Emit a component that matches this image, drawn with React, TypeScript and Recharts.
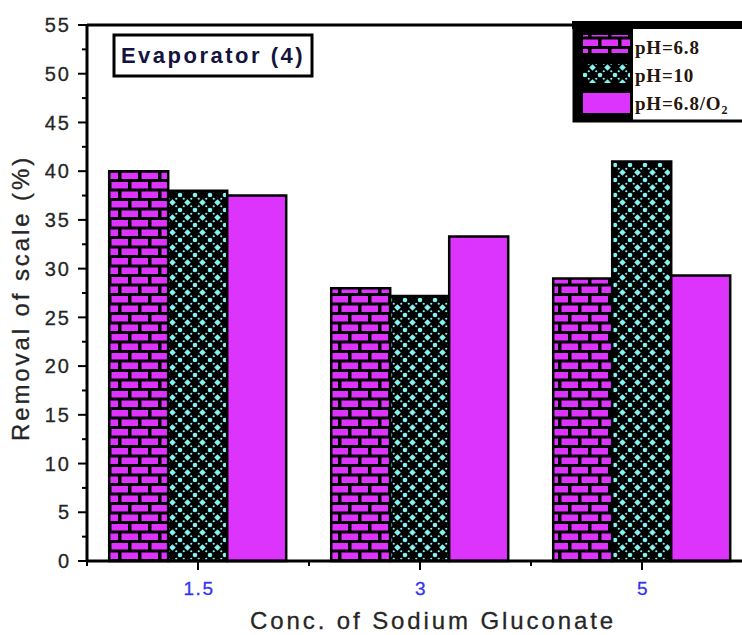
import React from 'react';
import { BarChart, Bar, XAxis, YAxis, ReferenceLine } from 'recharts';

const categories = ['1.5', '3', '5'];
const ph68 = [40, 28, 29];
const ph10 = [38, 27.2, 41];
const ph68o2 = [37.5, 33.3, 29.3];
const yTicks = [0, 2.5, 5, 7.5, 10, 12.5, 15, 17.5, 20, 22.5, 25, 27.5, 30, 32.5, 35, 37.5, 40, 42.5, 45, 47.5, 50, 52.5, 55];
const seriesNames = ['pH=6.8', 'pH=10', 'pH=6.8/O'];

const data = categories.map((c, i) => ({ conc: c, a: ph68[i], b: ph10[i], c: ph68o2[i] }));

const MAGENTA = '#dc34fc';
const CYAN = '#82f4f2';
const SANS = '"Liberation Sans", Arial, sans-serif';
const SERIF = '"Liberation Serif", "Times New Roman", serif';

const Patterns = ({ prefix }: { prefix: string }) => (
  <defs>
    <pattern id={`${prefix}brick`} patternUnits="userSpaceOnUse" width={20} height={19} x={0} y={0}>
      <rect x={0} y={0} width={20} height={19} fill="#000" />
      <rect x={1.5} y={1.5} width={16.5} height={6.5} fill={MAGENTA} />
      <rect x={-8.5} y={11} width={16.5} height={6.5} fill={MAGENTA} />
      <rect x={11.5} y={11} width={16.5} height={6.5} fill={MAGENTA} />
    </pattern>
    <pattern id={`${prefix}cross`} patternUnits="userSpaceOnUse" width={15} height={15} x={0} y={0}>
      <rect x={0} y={0} width={15} height={15} fill="#000" />
      <path d="M7.5 4.2 L10.8 7.5 L7.5 10.8 L4.2 7.5 Z" fill={CYAN} />
      <circle cx={0} cy={0} r={2.3} fill={CYAN} />
      <circle cx={15} cy={0} r={2.3} fill={CYAN} />
      <circle cx={0} cy={15} r={2.3} fill={CYAN} />
      <circle cx={15} cy={15} r={2.3} fill={CYAN} />
      <circle cx={3.75} cy={3.75} r={1.1} fill={CYAN} />
      <circle cx={11.25} cy={3.75} r={1.1} fill={CYAN} />
      <circle cx={3.75} cy={11.25} r={1.1} fill={CYAN} />
      <circle cx={11.25} cy={11.25} r={1.1} fill={CYAN} />
    </pattern>
  </defs>
);

const YTick = (props: any) => {
  const { x, y, payload } = props;
  const major = payload.value % 5 === 0;
  return (
    <g>
      <line x1={x - (major ? 9 : 5)} x2={x} y1={y} y2={y} stroke="#000" strokeWidth={2} />
      {major && (
        <text x={x - 16} y={y} dy="0.36em" textAnchor="end" fontSize={20} fontFamily={SANS} fill="#262626" letterSpacing={2} stroke="#262626" strokeWidth={0.3}>
          {payload.value}
        </text>
      )}
    </g>
  );
};

const XTick = (props: any) => {
  const { x, y, payload } = props;
  const off = typeof payload.offset === 'number' ? payload.offset : 0;
  return (
    <g>
      <line x1={x} x2={x} y1={y} y2={y + 9} stroke="#000" strokeWidth={2} />
      {off > 0 && <line x1={x - off} x2={x - off} y1={y} y2={y + 5} stroke="#000" strokeWidth={2} />}
      {off > 0 && <line x1={x + off} x2={x + off} y1={y} y2={y + 5} stroke="#000" strokeWidth={2} />}
      <text x={x + 1} y={y + 34} textAnchor="middle" fontSize={19} fontFamily={SANS} fill="#3434f0" letterSpacing={1.5} stroke="#3434f0" strokeWidth={0.3}>
        {payload.value}
      </text>
    </g>
  );
};

export default function App() {
  return (
    <div style={{ position: 'absolute', left: 0, top: 0, width: 742, height: 635, overflow: 'hidden', background: '#fff' }}>
      <BarChart
        width={770}
        height={635}
        data={data}
        margin={{ top: 25, right: 17, bottom: 0, left: 0 }}
        barCategoryGap="10%"
        barGap={0}
      >
        <Patterns prefix="c-" />
        <XAxis
          dataKey="conc"
          height={74}
          tickSize={0}
          tickMargin={0}
          interval={0}
          tick={<XTick />}
          axisLine={{ stroke: '#000', strokeWidth: 3 }}
          tickLine={false}
        />
        <YAxis
          width={87}
          domain={[0, 55]}
          ticks={yTicks}
          interval={0}
          tickSize={0}
          tickMargin={0}
          tick={<YTick />}
          axisLine={{ stroke: '#000', strokeWidth: 3 }}
          tickLine={false}
        />
        <ReferenceLine y={55} stroke="#000" strokeWidth={3} />
        <Bar dataKey="a" name={seriesNames[0]} fill="url(#c-brick)" stroke="#000" strokeWidth={2.5} isAnimationActive={false} />
        <Bar dataKey="b" name={seriesNames[1]} fill="url(#c-cross)" stroke="#000" strokeWidth={2.5} isAnimationActive={false} />
        <Bar dataKey="c" name={seriesNames[2]} fill={MAGENTA} stroke="#000" strokeWidth={2.5} isAnimationActive={false} />
      </BarChart>
      <svg width={742} height={635} style={{ position: 'absolute', left: 0, top: 0, pointerEvents: 'none' }}>
        <Patterns prefix="l-" />
        {/* title box */}
        <rect x={114} y={35} width={198} height={41} fill="#fff" stroke="#000" strokeWidth={3} />
        <text x={213} y={63} textAnchor="middle" fontSize={22} fontWeight="bold" fontFamily={SANS} fill="#141440" letterSpacing={2.5}>
          Evaporator (4)
        </text>
        {/* legend */}
        <rect x={574} y={25} width={180} height={96} fill="#fff" stroke="#000" strokeWidth={3} />
        <rect x={572} y={21} width={172} height={8} fill="#000" />
        <rect x={574} y={25} width={59} height={96} fill="#000" />
        <rect x={583} y={35} width={47} height={18} fill="url(#l-brick)" />
        <rect x={583} y={64} width={47} height={19} fill="url(#l-cross)" />
        <rect x={583} y={93} width={47} height={20} fill={MAGENTA} />
        <g fontFamily={SERIF} fontWeight="bold" fontSize={19} fill="#24160c" letterSpacing={0.8}>
          <text x={635} y={54}>{seriesNames[0]}</text>
          <text x={635} y={82}>{seriesNames[1]}</text>
          <text x={635} y={110}>
            {seriesNames[2]}
            <tspan fontSize={12} dy={4}>2</tspan>
          </text>
        </g>
        {/* axis titles */}
        <text x={433} y={629} textAnchor="middle" fontSize={24} fontFamily={SANS} fill="#262626" letterSpacing={2.9} stroke="#262626" strokeWidth={0.3}>
          Conc. of Sodium Gluconate
        </text>
        <text
          x={0}
          y={0}
          transform="translate(29 298) rotate(-90)"
          textAnchor="middle"
          fontSize={24}
          fontFamily={SANS}
          fill="#262626"
          letterSpacing={2.9}
          stroke="#262626"
          strokeWidth={0.3}
        >
          Removal of scale (%)
        </text>
      </svg>
    </div>
  );
}
